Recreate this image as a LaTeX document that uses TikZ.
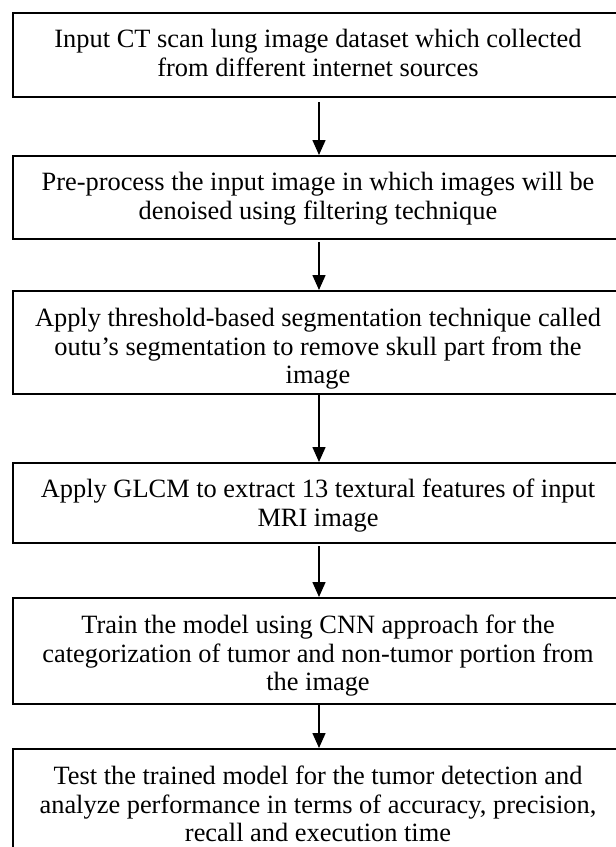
\documentclass[tikz,border=0pt]{standalone}
\usepackage{fontspec}
\setmainfont{Liberation Serif}
\usetikzlibrary{arrows.meta}
\begin{document}
\begin{tikzpicture}[x=0.5pt,y=-0.5pt,
  box/.style={draw, line width=1pt, rectangle, minimum width=305pt, inner sep=0pt, anchor=north west},
  txt/.style={align=center, inner sep=0pt, anchor=north, font=\fontsize{13.2pt}{14.2pt}\selectfont},
  flow/.style={line width=0.75pt, -{Triangle[width=6.5pt,length=7.5pt]}}]
\useasboundingbox (0,0) rectangle (616,847);
\node[box, minimum height=42pt]   (b1) at (12,12)  {};
\node[box, minimum height=41.5pt] (b2) at (12,155) {};
\node[box, minimum height=51.5pt] (b3) at (12,290) {};
\node[box, minimum height=40pt]   (b4) at (12,462) {};
\node[box, minimum height=53pt]   (b5) at (12,597) {};
\node[box, minimum height=61pt]   (b6) at (12,748) {};
\node[txt] (t1) at ([yshift=-8.5pt]b1.north) {Input CT scan lung image dataset which collected\\from different internet sources};
\node[txt] (t2) at ([yshift=-8.5pt]b2.north) {Pre-process the input image in which images will be\\denoised using filtering technique};
\node[txt] (t3) at ([yshift=-9pt]b3.north) {Apply threshold-based segmentation technique called\\outu’s segmentation to remove skull part from the\\image};
\node[txt] (t4) at ([yshift=-8.5pt]b4.north) {Apply GLCM to extract 13 textural features of input\\MRI image};
\node[txt] (t5) at ([yshift=-9pt]b5.north) {Train the model using CNN approach for the\\categorization of tumor and non-tumor portion from\\the image};
\node[txt] (t6) at ([yshift=-9pt]b6.north) {Test the trained model for the tumor detection and\\analyze performance in terms of accuracy, precision,\\recall and execution time};
\draw[flow] ([xshift=0.5pt,yshift=-2pt]b1.south) -- ([xshift=0.5pt]b2.north);
\draw[flow] ([xshift=0.5pt,yshift=-1pt]b2.south) -- ([xshift=0.5pt]b3.north);
\draw[flow] ([xshift=0.5pt]b3.south) -- ([xshift=0.5pt]b4.north);
\draw[flow] ([xshift=0.5pt,yshift=-1pt]b4.south) -- ([xshift=0.5pt]b5.north);
\draw[flow] ([xshift=0.5pt]b5.south) -- ([xshift=0.5pt]b6.north);
\end{tikzpicture}
\end{document}
